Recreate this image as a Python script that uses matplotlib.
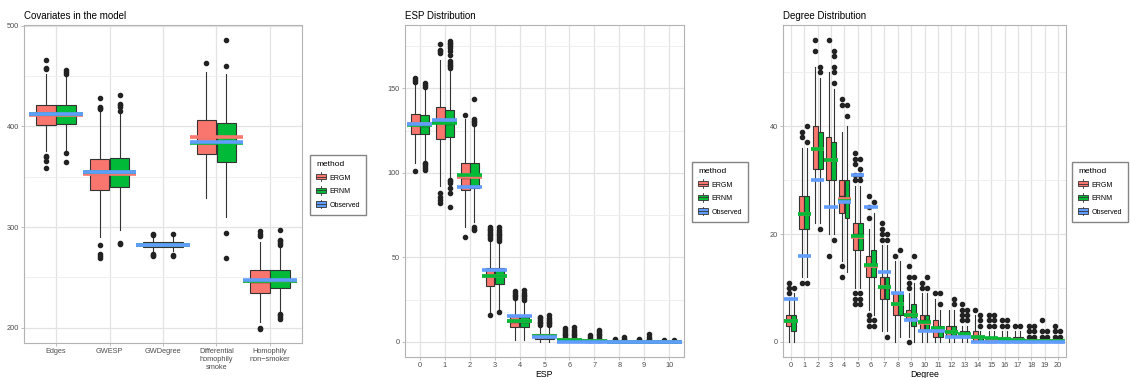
import matplotlib
matplotlib.use("Agg")
import matplotlib.pyplot as plt
from matplotlib.patches import Patch, Rectangle
from matplotlib.lines import Line2D
from matplotlib.legend_handler import HandlerBase

plt.rcParams["font.family"] = ["Liberation Sans", "DejaVu Sans"]

methods = ["ERGM", "ERNM", "Observed"]
colors = {"ERGM": "#F8766D", "ERNM": "#00BA38", "Observed": "#619CFF"}

# ---- panel 1: covariates ----  box rows are [whislo, q1, med, q3, whishi]
cov_labels = ["Edges", "GWESP", "GWDegree", "Differential\nhomophily\nsmoke",
              "Homophily\nnon\u2212smoker"]
cov_ergm = [[375, 401, 411, 421, 452], [290, 337, 353, 368, 416],
            [276, 280, 282, 285, 290], [329, 373, 389, 406, 454],
            [206, 235, 246, 257, 285]]
cov_ergm_out = [[359, 366, 370, 371, 457, 458, 466],
                [269, 271, 273, 282, 417, 418, 419, 428],
                [271, 272, 273, 292, 293], [463], [199, 200, 291, 293, 296]]
cov_ernm = [[375, 402, 412, 421, 450], [297, 340, 355, 369, 412],
            [276, 280, 282, 285, 290], [310, 365, 384, 403, 452],
            [215, 240, 247, 257, 283]]
cov_ernm_out = [[365, 374, 452, 454, 456], [283, 284, 415, 419, 421, 422, 431],
                [271, 272, 293], [269, 294, 460, 486],
                [209, 211, 213, 214, 282, 284, 286, 287, 297]]
cov_mean_ergm = [411.6, 353.0, 282.2, 389.2, 246.1]
cov_mean_ernm = [412.0, 354.5, 282.0, 383.6, 247.0]
cov_obs = [412.3, 354.6, 282.4, 384.3, 247.8]

# ---- panel 2: ESP ----
esp_labels = [str(i) for i in range(11)]
esp_ergm = [[106, 123, 129, 135, 153], [92, 120, 130, 139, 167],
            [68, 90, 97, 106, 132], [17, 33, 39, 44, 60],
            [1, 9, 12, 16, 25], [0, 2, 3, 5, 9], [0, 0, 1, 1, 2],
            [0, 0, 0, 0, 0], [0, 0, 0, 0, 0], [0, 0, 0, 0, 0], [0, 0, 0, 0, 0]]
esp_ergm_out = [[101, 154, 155, 156], [82, 84, 86, 88, 171, 172, 173, 176],
                [62, 134], [16, 61, 62, 63, 64, 65, 66, 67, 68],
                [26, 27, 28, 29, 30], [10, 11, 12, 13, 14, 15],
                [3, 4, 5, 6, 7, 8], [1, 2, 3, 4], [1, 2], [1, 2], [1]]
esp_ernm = [[107, 123, 128, 134, 150], [97, 121, 129, 137, 161],
            [71, 91, 99, 106, 128], [19, 34, 39, 44, 59],
            [1, 9, 12, 15, 24], [0, 2, 3, 5, 9], [0, 0, 1, 1, 2],
            [0, 0, 0, 0, 0], [0, 0, 0, 0, 0], [0, 0, 0, 0, 0], [0, 0, 0, 0, 0]]
esp_ernm_out = [[102, 103, 104, 105, 106, 151, 152, 153],
                [80, 88, 91, 94, 95, 96, 162, 163, 164, 165, 166, 170, 172,
                 174, 175, 176, 177, 178],
                [66, 67, 68, 129, 130, 131, 132, 144],
                [18, 60, 61, 62, 63, 64, 65, 66, 68],
                [25, 26, 27, 28, 29, 31], [10, 11, 12, 13, 14, 16],
                [3, 4, 5, 6, 7, 9], [1, 2, 3, 4, 5, 6, 7], [1, 2, 3],
                [1, 2, 3, 5], [1]]
esp_mean_ergm = [128.9, 130.3, 97.4, 38.8, 12.5, 3.6, 1.0, 0.5, 0.2, 0.1, 0.05]
esp_mean_ernm = [128.5, 129.5, 98.8, 38.8, 12.2, 3.3, 1.1, 0.6, 0.2, 0.1, 0.05]
esp_obs = [129.1, 131.3, 91.9, 42.7, 15.2, 3.0, 0, 0, 0, 0, 0]

# ---- panel 3: degree ----
deg_labels = [str(i) for i in range(21)]
deg_ergm = [[0, 3, 4, 5, 8], [12, 21, 24, 27, 36], [22, 32, 36, 40, 51],
            [20, 30, 34, 38, 50], [15, 24, 27, 30, 39], [10, 17, 20, 22, 29],
            [6, 12, 14, 16, 21], [2, 8, 10, 12, 18], [0, 5, 7, 9, 15],
            [1, 4, 5, 6, 9], [0, 2, 4, 5, 9], [0, 1, 2, 4, 8], [0, 1, 2, 3, 6],
            [0, 1, 1, 2, 3], [0, 0, 1, 2, 5], [0, 0, 0, 1, 2], [0, 0, 0, 1, 2],
            [0, 0, 0, 1, 2], [0, 0, 0, 0, 0], [0, 0, 0, 0, 0], [0, 0, 0, 0, 0]]
deg_ergm_out = [[9, 10, 11], [11, 38, 39], [54, 56], [16, 56], [12, 14, 44, 45],
                [7, 8, 9, 30, 31, 33, 34, 35], [3, 4, 5, 23, 25, 27],
                [19, 20, 21, 22], [16], [0, 10, 11, 12, 14], [10, 11], [9], [],
                [4, 5, 6, 7], [6], [3, 4, 5], [3, 4], [3], [1, 2, 3], [1, 2, 4],
                [1, 2, 3]]
deg_ernm = [[0, 2, 4, 5, 9], [12, 21, 24, 27, 36], [22, 32, 36, 39, 49],
            [20, 30, 34, 37, 47], [13, 23, 26, 30, 40], [10, 17, 20, 22, 29],
            [5, 12, 14, 17, 24], [2, 8, 10, 12, 18], [1, 5, 7, 9, 15],
            [0, 3, 5, 7, 11], [0, 2, 4, 5, 9], [0, 1, 2, 3, 6], [0, 1, 2, 3, 6],
            [0, 1, 1, 2, 3], [0, 0, 1, 1, 2], [0, 0, 0, 1, 2], [0, 0, 0, 1, 2],
            [0, 0, 0, 1, 2], [0, 0, 0, 0, 0], [0, 0, 0, 0, 0], [0, 0, 0, 0, 0]]
deg_ernm_out = [[10], [11, 37, 40], [21, 50, 51], [19, 48, 50, 51, 53, 54],
                [42, 44], [7, 8, 9, 30, 31, 32, 34], [3, 4, 26], [1, 19, 20],
                [17], [12, 16], [10, 12], [7, 9], [7, 8], [4, 5, 6], [3, 4, 5],
                [3, 4, 5], [3, 4], [3], [1, 2, 3], [1, 2], [1, 2]]
deg_mean_ergm = [3.8, 23.7, 35.8, 33.8, 26.6, 19.4, 14.0, 10.1, 7.0, 4.9, 3.6,
                 2.3, 1.8, 1.3, 0.9, 0.6, 0.5, 0.3, 0.2, 0.1, 0.1]
deg_mean_ernm = [3.8, 23.7, 35.8, 33.8, 26.1, 19.6, 14.2, 10.1, 7.0, 5.0, 3.7,
                 2.5, 1.9, 1.4, 0.9, 0.7, 0.5, 0.3, 0.2, 0.1, 0.1]
deg_obs = [8, 16, 30, 25, 26, 31, 25, 13, 9, 4, 2, 2, 1, 1, 0, 0, 0, 0, 0, 0, 0]


class BoxKey(HandlerBase):
    def create_artists(self, legend, orig, xd, yd, w, h, fontsize, trans):
        fc = orig.get_facecolor()
        cx = xd + w / 2
        wl = Line2D([cx, cx], [yd - h * 0.3, yd + h * 1.3], color="#333333",
                    lw=0.6, transform=trans)
        r = Rectangle((xd, yd), w, h, facecolor=fc, edgecolor="#333333",
                      lw=0.6, transform=trans)
        m = Line2D([xd, xd + w], [yd + h / 2] * 2,
                   color="#333333", lw=0.6, transform=trans)
        return [wl, r, m]


def stats(rows, outs):
    res = []
    for r, o in zip(rows, outs):
        res.append(dict(whislo=r[0], q1=r[1], med=r[2], q3=r[3], whishi=r[4],
                        fliers=o))
    return res


def panel(ax, title, labels, ergm, ergm_out, ernm, ernm_out,
          m_ergm, m_ernm, obs, xlabel, ylim, yticks, yminor, leg_xy):
    n = len(labels)
    xs = list(range(n))
    for rows, outs, off, name in [(ergm, ergm_out, -0.1875, "ERGM"),
                                  (ernm, ernm_out, 0.1875, "ERNM")]:
        ax.bxp(stats(rows, outs), positions=[x + off for x in xs], widths=0.36,
               patch_artist=True, showcaps=False, manage_ticks=False,
               boxprops=dict(facecolor=colors[name], edgecolor="#333333", lw=0.8),
               whiskerprops=dict(color="#333333", lw=0.8),
               medianprops=dict(color="#333333", lw=1.0),
               flierprops=dict(marker="o", markerfacecolor="#222222",
                               markeredgecolor="#222222", markersize=3.0))
    for vals, name in [(m_ergm, "ERGM"), (m_ernm, "ERNM"), (obs, "Observed")]:
        ax.hlines(vals, [x - 0.5 for x in xs], [x + 0.5 for x in xs],
                  colors=colors[name], lw=2.6, zorder=5)
    ax.set_xlim(-0.6, n - 0.4)
    ax.set_ylim(*ylim)
    ax.set_xticks(xs)
    ax.set_xticklabels(labels)
    ax.set_yticks(yticks)
    ax.set_yticks(yminor, minor=True)
    ax.grid(True, which="major", color="#E3E3E3", lw=0.9)
    ax.grid(True, which="minor", axis="y", color="#EDEDED", lw=0.6)
    ax.set_axisbelow(True)
    for s in ax.spines.values():
        s.set_color("#B3B3B3")
        s.set_linewidth(0.8)
    ax.tick_params(which="major", color="#B3B3B3", length=2.5, width=0.6,
                   labelcolor="#4D4D4D", labelsize=5.3, pad=1.2)
    ax.tick_params(which="minor", length=0)
    ax.set_title(title, loc="left", fontsize=7, pad=4)
    if xlabel:
        ax.set_xlabel(xlabel, fontsize=6.3)
        ax.xaxis.set_label_coords(0.5, -0.038)
    handles = [Patch(facecolor=colors[m]) for m in methods]
    fig.legend(handles, methods, title="method", handler_map={Patch: BoxKey()},
               loc="upper left", bbox_to_anchor=(leg_xy[0] / 1130, 1 - leg_xy[1] / 378),
               fontsize=5, title_fontsize=6, frameon=True, fancybox=False,
               edgecolor="#666666", borderaxespad=0, handlelength=1.4,
               handleheight=0.8, labelspacing=0.95, borderpad=0.85,
               handletextpad=0.6, alignment="left")


fig = plt.figure(figsize=(11.3, 3.78), dpi=100)
ax1 = fig.add_axes([24 / 1130, 35 / 378, 278 / 1130, 318 / 378])
ax2 = fig.add_axes([405 / 1130, 21 / 378, 279 / 1130, 332 / 378])
ax3 = fig.add_axes([783 / 1130, 21 / 378, 283 / 1130, 332 / 378])

panel(ax1, "Covariates in the model", cov_labels, cov_ergm, cov_ergm_out,
      cov_ernm, cov_ernm_out, cov_mean_ergm, cov_mean_ernm, cov_obs, None,
      (185, 500.5), [200, 300, 400, 500], [250, 350, 450], (310, 155))
panel(ax2, "ESP Distribution", esp_labels, esp_ergm, esp_ergm_out,
      esp_ernm, esp_ernm_out, esp_mean_ergm, esp_mean_ernm, esp_obs, "ESP",
      (-8.9, 187.5), [0, 50, 100, 150], [25, 75, 125, 175], (692, 162))
panel(ax3, "Degree Distribution", deg_labels, deg_ergm, deg_ergm_out,
      deg_ernm, deg_ernm_out, deg_mean_ergm, deg_mean_ernm, deg_obs, "Degree",
      (-2.8, 58.8), [0, 20, 40], [10, 30, 50], (1072, 162))

fig.savefig("out.png", dpi=100)
